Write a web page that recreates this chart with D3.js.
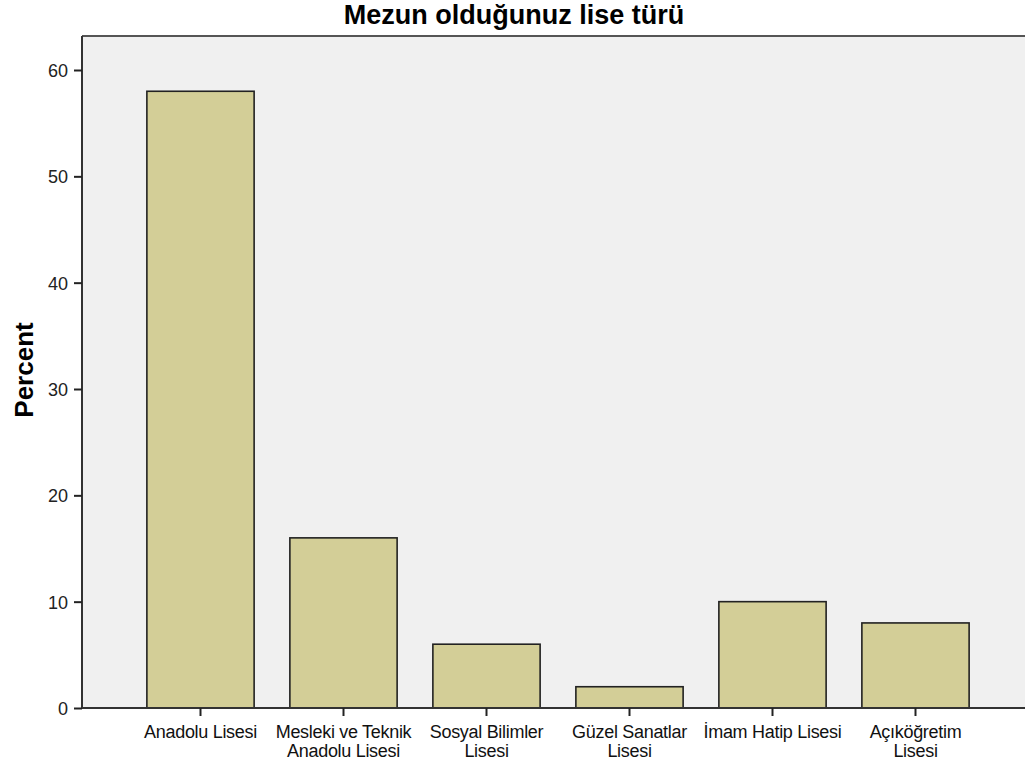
<!DOCTYPE html>
<html>
<head>
<meta charset="utf-8">
<script src="https://cdn.jsdelivr.net/npm/d3@7"></script>
<style>
  body { margin: 0; background: #fff; }
  text { font-family: "Liberation Sans", Arial, sans-serif; }
</style>
</head>
<body>
<div id="chart"></div>
<script>
// categories and percentages
const categories = [
    ["Anadolu Lisesi"],
    ["Mesleki ve Teknik", "Anadolu Lisesi"],
    ["Sosyal Bilimler", "Lisesi"],
    ["Güzel Sanatlar", "Lisesi"],
    ["İmam Hatip Lisesi"],
    ["Açıköğretim", "Lisesi"]
];
const percents = [58, 16, 6, 2, 10, 8];
const yTicks = [0, 10, 20, 30, 40, 50, 60];

const w = 1025;
const h = 767;
const plot = {left: 82, top: 36, right: 1025, bottom: 708};

const svg = d3.select("#chart")
    .append("svg")
    .attr("width", w)
    .attr("height", h);

const rows = categories.map((c, i) => ({key: c.join(" "), lines: c, value: percents[i]}));

let x = d3.scaleBand()
    .domain(rows.map(d => d.key))
    .range([129, 987])
    .paddingInner(0.25)
    .paddingOuter(0.125);

let y = d3.scaleLinear()
    .domain([0, 60])
    .range([plot.bottom, 70]);

// plot background
svg.append("rect")
    .attr("x", plot.left)
    .attr("y", plot.top)
    .attr("width", plot.right - plot.left)
    .attr("height", plot.bottom - plot.top)
    .attr("fill", "#f0f0f0");

// top frame line
svg.append("line")
    .attr("x1", plot.left)
    .attr("x2", plot.right)
    .attr("y1", plot.top)
    .attr("y2", plot.top)
    .attr("stroke", "#555")
    .attr("stroke-width", 2);

// bars
svg.selectAll("rect.bar")
    .data(rows)
    .enter()
    .append("rect")
    .attr("class", "bar")
    .attr("x", d => x(d.key))
    .attr("y", d => y(d.value))
    .attr("width", x.bandwidth())
    .attr("height", d => y(0) - y(d.value))
    .attr("fill", "#d3ce97")
    .attr("stroke", "#222")
    .attr("stroke-width", 1.6);

// y axis
const yAxis = svg.append("g")
    .attr("transform", `translate(${plot.left},0)`)
    .call(d3.axisLeft(y).tickValues(yTicks).tickSize(8).tickSizeOuter(0).tickPadding(6));
yAxis.select(".domain")
    .attr("d", `M0,${plot.top}V${plot.bottom}`)
    .attr("stroke", "#333")
    .attr("stroke-width", 2);
yAxis.selectAll(".tick line").attr("stroke", "#222").attr("stroke-width", 2);
yAxis.selectAll(".tick text")
    .style("font-size", "18px")
    .attr("fill", "#222")
    .attr("dy", "0.36em");

// x axis
const xAxis = svg.append("g")
    .attr("transform", `translate(0,${plot.bottom})`)
    .call(d3.axisBottom(x).tickSize(8).tickSizeOuter(0).tickFormat(""));
xAxis.select(".domain")
    .attr("d", `M${plot.left},0H${plot.right}`)
    .attr("stroke", "#333")
    .attr("stroke-width", 2);
xAxis.selectAll(".tick line").attr("stroke", "#222").attr("stroke-width", 2);

// category labels, one or two lines
svg.selectAll("text.cat")
    .data(rows)
    .enter()
    .append("text")
    .attr("class", "cat")
    .attr("text-anchor", "middle")
    .style("font-size", "18px")
    .style("letter-spacing", "-0.3px")
    .attr("fill", "#111")
    .each(function(d) {
        const t = d3.select(this);
        d.lines.forEach((line, i) => {
            t.append("tspan")
                .attr("x", x(d.key) + x.bandwidth() / 2)
                .attr("y", 738 + i * 19)
                .text(line);
        });
    });

// title
svg.append("text")
    .attr("x", 514)
    .attr("y", 24)
    .attr("text-anchor", "middle")
    .style("font-size", "27px")
    .style("font-weight", "bold")
    .attr("fill", "#000")
    .text("Mezun olduğunuz lise türü");

// y axis title
svg.append("text")
    .attr("transform", "translate(33,370) rotate(-90)")
    .attr("text-anchor", "middle")
    .style("font-size", "26px")
    .style("font-weight", "bold")
    .attr("fill", "#000")
    .text("Percent");
</script>
</body>
</html>
